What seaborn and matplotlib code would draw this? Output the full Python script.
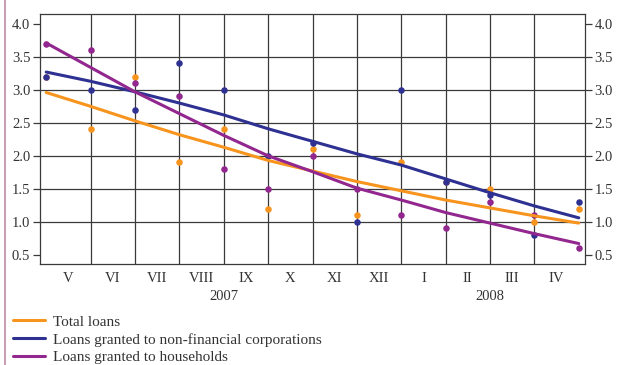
import numpy as np
import pandas as pd
import seaborn as sns
import matplotlib.pyplot as plt
from matplotlib.lines import Line2D


# DATA
months = ['V', 'VI', 'VII', 'VIII', 'IX', 'X', 'XI', 'XII', 'I', 'II', 'III', 'IV']
years = ['2007', '2008']
year_pos = [4, 10]
pos = np.arange(13)

# monthly values (dots)
total_loans = [3.2, 2.4, 3.2, 1.9, 2.4, 1.2, 2.1, 1.1, 1.9, 1.6, 1.5, 1.0, 1.2]
corporations = [3.2, 3.0, 2.7, 3.4, 3.0, 2.0, 2.2, 1.0, 3.0, 1.6, 1.4, 0.8, 1.3]
households = [3.7, 3.6, 3.1, 2.9, 1.8, 1.5, 2.0, 1.5, 1.1, 0.9, 1.3, 1.1, 0.6]

# trend lines
total_trend = [2.96, 2.75, 2.53, 2.32, 2.13, 1.93, 1.77, 1.61, 1.47, 1.33, 1.21, 1.09, 0.98]
corp_trend = [3.27, 3.13, 2.97, 2.80, 2.62, 2.41, 2.22, 2.03, 1.86, 1.65, 1.44, 1.24, 1.06]
house_trend = [3.71, 3.34, 2.97, 2.64, 2.31, 2.00, 1.76, 1.51, 1.33, 1.14, 0.98, 0.82, 0.67]

names = ['Total loans', 'Loans granted to non-financial corporations', 'Loans granted to households']
colors = ['#F7941D', '#2E3192', '#92278F']
series = [total_loans, corporations, households]
trends = [total_trend, corp_trend, house_trend]


sns.set_style('white')
plt.rcParams['font.family'] = ['Liberation Serif', 'DejaVu Serif']

fig = plt.figure(figsize=(6.17, 3.65), dpi=100)
ax = fig.add_axes([40 / 617, 1 - 264 / 365, 545 / 617, 250 / 365])

# points first, trend lines over them
for c, y in zip(colors, series):
    df = pd.DataFrame({'pos': pos, 'value': y})
    sns.scatterplot(data=df, x='pos', y='value', color=c, s=22, linewidth=0, ax=ax, zorder=3)
for c, t in zip(colors, trends):
    df = pd.DataFrame({'pos': pos, 'trend': t})
    sns.lineplot(data=df, x='pos', y='trend', color=c, lw=2.2, ax=ax, zorder=4)

ax.set_xlim(-0.14, 12.14)
ax.set_ylim(0.36, 4.15)
ax.set_xlabel('')
ax.set_ylabel('')

# grid
for p in pos[1:-1]:
    ax.axvline(p, color='#3a3a3a', lw=0.9, zorder=1)
for v in [1.0, 1.5, 2.0, 2.5, 3.0, 3.5]:
    ax.axhline(v, color='#3a3a3a', lw=0.9, zorder=1)

for s in ax.spines.values():
    s.set_color('#3a3a3a')
    s.set_linewidth(0.9)

ax.set_yticks([0.5, 1.0, 1.5, 2.0, 2.5, 3.0, 3.5, 4.0])
ax.set_yticklabels([f'{v:.1f}' for v in ax.get_yticks()])
ax.tick_params(axis='y', which='both', left=True, right=True, labelleft=True, labelright=True,
               direction='out', length=5, width=0.9, color='#3a3a3a', labelsize=10.5,
               labelcolor='#333333', pad=2)
ax.set_xticks(pos)
ax.set_xticklabels([])
ax.tick_params(axis='x', direction='out', length=6, width=0.9, color='#3a3a3a')

for i, m in enumerate(months):
    ax.text(i + 0.5, -0.056, m, transform=ax.get_xaxis_transform(), ha='center', va='center',
            fontsize=10.5, color='#333333')
for p, yr in zip(year_pos, years):
    ax.text(p, -0.132, yr, transform=ax.get_xaxis_transform(), ha='center', va='center',
            fontsize=10.5, color='#333333')

# legend below the plot
handles = [Line2D([0], [0], color=c, lw=2.2) for c in colors]
fig.legend(handles, names, loc='upper left', bbox_to_anchor=(13 / 617, 1 - 315 / 365), frameon=False,
           fontsize=11, handlelength=2.1, handletextpad=0.5, labelspacing=0.27,
           labelcolor='#333333', borderaxespad=0, borderpad=0)

# page border on the left
fig.add_artist(Line2D([5 / 617, 5 / 617], [0, 1], color='#C9A0B4', lw=1.5))

fig.savefig('out.png', dpi=100)
